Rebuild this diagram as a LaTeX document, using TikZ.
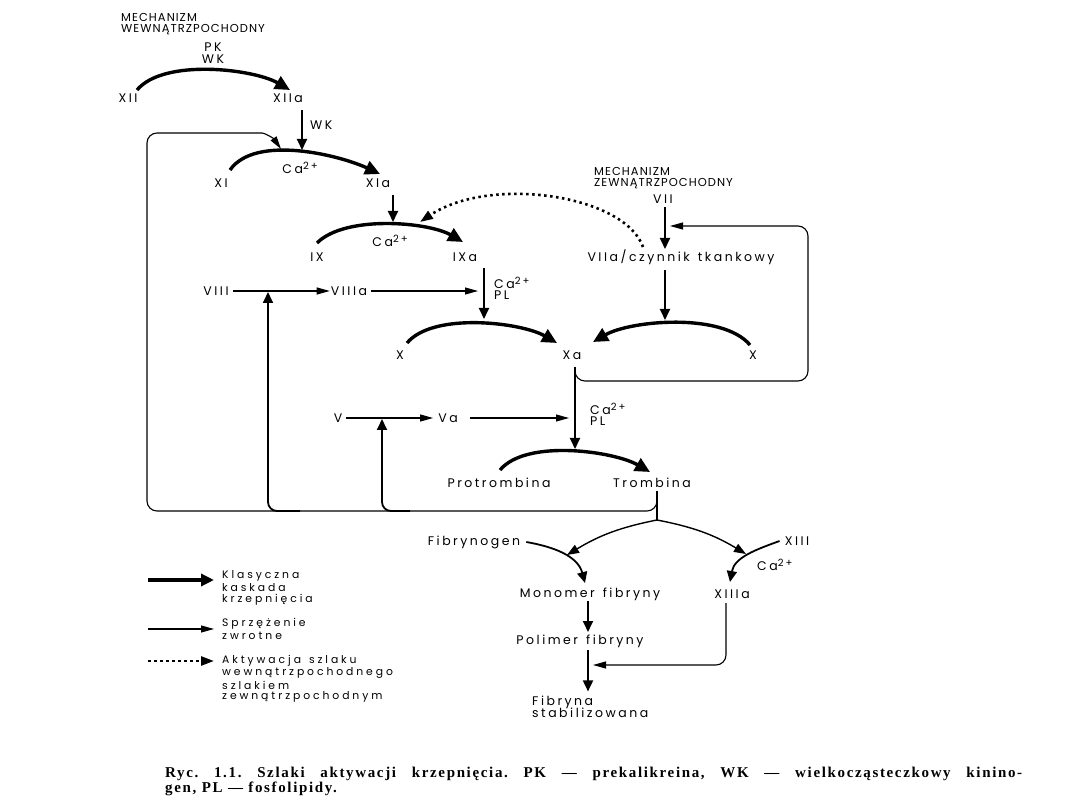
\documentclass[tikz,border=0pt]{standalone}
\usepackage{fontspec}
\setmainfont{Liberation Serif}
\newfontfamily\dfont[LetterSpace=20]{Poppins}
\newfontfamily\cfont[LetterSpace=9]{Poppins}
\newfontfamily\lgfont[LetterSpace=27]{Poppins}
\newfontfamily\capfont[LetterSpace=11]{Liberation Serif}
\usetikzlibrary{arrows.meta}
\newcommand{\CaTwo}{Ca\raisebox{4pt}{\fontsize{10}{10}\selectfont 2+}}
\newcommand{\wsp}{\hspace{8pt}}
\begin{document}
\begin{tikzpicture}[x=1pt,y=1pt]
\useasboundingbox (0,0) rectangle (1080,-810);
\fill[white] (0,0) rectangle (1080,-810);
\tikzset{
 lb/.style={inner sep=0pt, font=\dfont\fontsize{12.5}{13}\selectfont},
 lw/.style={lb, anchor=west},
 lg/.style={inner sep=0pt, anchor=west, font=\lgfont\fontsize{10.8}{11}\selectfont},
 cp/.style={inner sep=0pt, font=\cfont\fontsize{11.5}{12}\selectfont, anchor=west},
 casc/.style={line width=3.4pt, -{Triangle[length=15pt,width=14pt]}, looseness=0.7},
 act/.style={line width=1.8pt, -{Triangle[length=11pt,width=10pt]}},
 spl/.style={line width=1.4pt, -{Triangle[length=12pt,width=9pt]}},
 fb/.style={line width=1.1pt, -{Triangle[length=13pt,width=7pt]}},
 fbl/.style={line width=1.1pt},
 dots/.style={line width=2.6pt, dash pattern=on 2.5pt off 3.5pt, -{Triangle[length=13pt,width=9pt]}},
 capt/.style={inner sep=0pt, anchor=base west, font=\capfont\bfseries\fontsize{15}{15}\selectfont}
}
% ---------- labels
\node[cp] (mw1) at (121,-17) {MECHANIZM};
\node[cp] (mw2) at (121,-30) {WEWNĄTRZPOCHODNY};
\node[lb] (pk) at (213,-47) {PK};
\node[lb] (wk1) at (213,-59) {WK};
\node[lb] (XII) at (128,-98) {XII};
\node[lb] (XIIa) at (288,-98) {XIIa};
\node[lw] (wk2) at (310,-125) {WK};
\node[lb] (XI) at (221,-183) {XI};
\node[lb] (XIa) at (378,-183) {XIa};
\node[lb] (ca1) at (300,-168) {\CaTwo};
\node[lb] (IX) at (317,-257) {IX};
\node[lb] (IXa) at (465,-257) {IXa};
\node[lb] (ca2) at (390,-241) {\CaTwo};
\node[cp] (mz1) at (594,-171) {MECHANIZM};
\node[cp] (mz2) at (594,-184) {ZEWNĄTRZPOCHODNY};
\node[lb] (VII) at (663,-199) {VII};
\node[lb] (VIIa) at (681,-257) {VIIa/czynnik\wsp tkankowy};
\node[lb] (VIII) at (216,-291) {VIII};
\node[lb] (VIIIa) at (349,-291) {VIIIa};
\node[lw] (ca3) at (494,-283) {\CaTwo};
\node[lw] (pl1) at (494,-295) {PL};
\node[lb] (Xl) at (400,-355) {X};
\node[lb] (Xa) at (572,-355) {Xa};
\node[lb] (Xr) at (753,-355) {X};
\node[lb] (V) at (338,-418) {V};
\node[lb] (Va) at (448,-418) {Va};
\node[lw] (ca4) at (590,-409) {\CaTwo};
\node[lw] (pl2) at (590,-421) {PL};
\node[lb] (Prot) at (499,-483) {Protrombina};
\node[lb] (Trom) at (652,-483) {Trombina};
\node[lb] (Fibg) at (474,-542) {Fibrynogen};
\node[lb] (XIII) at (797,-541) {XIII};
\node[lw] (ca5) at (757,-565) {\CaTwo};
\node[lb] (Mono) at (590,-594) {Monomer\wsp fibryny};
\node[lb] (XIIIa) at (732,-594) {XIIIa};
\node[lb] (Poli) at (580,-641) {Polimer\wsp fibryny};
\node[lw] (Fib1) at (532,-702) {Fibryna};
\node[lw] (Fib2) at (532,-713) {stabilizowana};
% ---------- coordinates for arrow ends on other connectors
\coordinate (tXI) at (302,-150);
\coordinate (tIX) at (393,-222);
\coordinate (tXl) at (484,-319);
\coordinate (tXr) at (665,-320);
\coordinate (tVIIa) at (665,-249);
\coordinate (tXIf) at (281,-149);
\coordinate (tIXd) at (420,-222);
\coordinate (tVII) at (670,-226);
\coordinate (tVIII) at (268,-292);
\coordinate (tV) at (382,-419);
\coordinate (tIXl) at (478,-291);
\coordinate (tVa) at (569,-418);
\coordinate (tPro) at (575,-449);
\coordinate (J) at (657,-520);
\coordinate (tPol) at (593,-665);
% ---------- cascade arcs
\draw[casc] ([shift={(9,8)}]XII.center) to[out=50,in=150] ([shift={(2,8)}]XIIa.center);
\draw[casc] ([shift={(9,13)}]XI.center) to[out=55,in=155,looseness=0.75] ([shift={(2,9)}]XIa.center);
\draw[casc] ([shift={(0,14)}]IX.center) to[out=45,in=150] ([shift={(-2,15)}]IXa.center);
\draw[casc] ([shift={(7,12)}]Xl.center) to[out=50,in=150] ([shift={(-15,12)}]Xa.center);
\draw[casc] ([shift={(-3,10)}]Xr.center) to[out=130,in=30] ([shift={(21,13)}]Xa.center);
\draw[casc] ([shift={(1,13)}]Prot.center) to[out=50,in=150] ([shift={(-2,11)}]Trom.center);
% ---------- activating arrows
\draw[act] ([shift={(14,-12)}]XIIa.center) -- (tXI);
\draw[act] ([shift={(15,-12)}]XIa.center) -- (tIX);
\draw[act] ([shift={(19,-11)}]IXa.center) -- (tXl);
\draw[act] ([shift={(2,-8)}]VII.center) -- (tVIIa);
\draw[act] ([shift={(-16,-13)}]VIIa.center) -- (tXr);
\draw[act] ([shift={(3,-12)}]Xa.center) -- (tPro);
\draw[act] ([shift={(-2,-7)}]Mono.center) -- ([shift={(8,9)}]Poli.center);
\draw[act] ([shift={(8,-9)}]Poli.center) -- ([shift={(56,4)}]Fib1.north west);
% ---------- dotted activation
\draw[dots] ([shift={(-38,10)}]VIIa.center) .. controls (625,-195) and (490,-175) .. (tIXd);
% ---------- horizontal
\draw[fb] ([xshift=4]VIII.east) -- ([xshift=-1]VIIIa.west);
\draw[fb] ([xshift=4]VIIIa.east) -- (tIXl);
\draw[fb] ([xshift=4]V.east) -- ([xshift=-5]Va.west);
\draw[fb] ([xshift=12]Va.east) -- (tVa);
% ---------- feedback loops
\draw[fbl] ([shift={(5,-8)}]Trom.center) -- (J);
\draw[fb, rounded corners=10] (657,-497) |- (147,-511) |- (252,-133) to[out=0,in=125] (tXIf);
\draw[act, rounded corners=9] (300,-511) -| (tVIII);
\draw[act, rounded corners=9] (410,-511) -| (tV);
\draw[fb, rounded corners=10] ([shift={(3,-13)}]Xa.center) |- (808,-381) |- (tVII);
% ---------- fibrin
\draw[spl] (J) to[bend right=10] ([shift={(-23,39)}]Mono.center);
\draw[spl] (J) to[bend left=10] ([shift={(14,40)}]XIIIa.center);
\draw[act] ([xshift=6]Fibg.east) to[out=-10,in=105] ([shift={(-5,11)}]Mono.center);
\draw[act] ([xshift=-5]XIII.west) to[out=200,in=80] ([shift={(-2,12)}]XIIIa.center);
\draw[fb, rounded corners=10] ([shift={(-6,-9)}]XIIIa.center) |- (tPol);
% ---------- legend
\coordinate (L1a) at (148,-580); \coordinate (L1b) at (214,-580);
\coordinate (L2a) at (148,-629); \coordinate (L2b) at (214,-629);
\coordinate (L3a) at (148,-661); \coordinate (L3b) at (214,-661);
\draw[line width=3.4pt, -{Triangle[length=13pt,width=12pt]}] (L1a) -- (L1b);
\draw[fb] (L2a) -- (L2b);
\draw[dots] (L3a) -- (L3b);
\node[lg] (k1) at (222,-576) {Klasyczna};
\node[lg] (k2) at (222,-588) {kaskada};
\node[lg] (k3) at (222,-600) {krzepnięcia};
\node[lg] (s1) at (222,-624) {Sprzężenie};
\node[lg] (s2) at (222,-636) {zwrotne};
\node[lg] (a1) at (222,-661) {Aktywacja\wsp szlaku};
\node[lg] (a2) at (222,-673) {wewnątrzpochodnego};
\node[lg] (a3) at (222,-685) {szlakiem};
\node[lg] (a4) at (222,-697) {zewnątrzpochodnym};
% ---------- caption
\node[capt] (c1) at (165,-777) {\frenchspacing\makebox[857pt][s]{Ryc. 1.1. Szlaki aktywacji krzepnięcia. PK — prekalikreina, WK — wielkocząsteczkowy kinino-}};
\node[capt] (c2) at (165,-792) {\frenchspacing gen, PL — fosfolipidy.};
\end{tikzpicture}
\end{document}
